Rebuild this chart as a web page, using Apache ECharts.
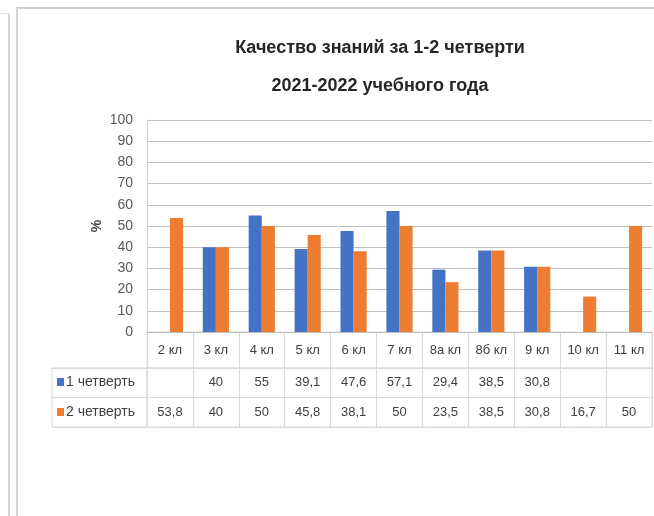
<!DOCTYPE html>
<html>
<head>
<meta charset="utf-8">
<script src="https://cdn.jsdelivr.net/npm/echarts@6/dist/echarts.min.js"></script>
<style>
  html, body { margin: 0; padding: 0; background: #fff; }
  .frame { position: absolute; pointer-events: none; }
  .side { left: 8px; top: 13px; width: 2px; height: 503px; background: #d6d6d6; }
  .side-top { left: 0; top: 13px; width: 9px; height: 1px; background: #e2e2e2; }
  .card-left { left: 16px; top: 7px; width: 2px; height: 509px; background: #d2d2d2; }
  .card-top { left: 16px; top: 7px; width: 638px; height: 2px; background: #cfcfcf; }
  #chart { position: absolute; left: 0; top: 0; width: 654px; height: 516px; }
</style>
</head>
<body>
<div class="frame side"></div>
<div class="frame side-top"></div>
<div class="frame card-left"></div>
<div class="frame card-top"></div>
<div id="chart"></div>
<script>
const classes = ['2 кл', '3 кл', '4 кл', '5 кл', '6 кл', '7 кл', '8а кл', '8б кл', '9 кл', '10 кл', '11 кл']
const quarter1 = [null, 40, 55, 39.1, 47.6, 57.1, 29.4, 38.5, 30.8, null, null]
const quarter2 = [53.8, 40, 50, 45.8, 38.1, 50, 23.5, 38.5, 30.8, 16.7, 50]
const seriesNames = ['1 четверть', '2 четверть']
const yTicks = [0, 100, 10]

const font = "'Liberation Sans', Arial, sans-serif"
const textColor = '#404040'
const tableLine = '#d5dae2'
const fmt = (v) => (v == null ? '' : String(v).replace('.', ','))

const chart = echarts.init(document.getElementById('chart'))

// one row of the data table under the plot
const tableAxis = (gridIndex, data, position, margin, showSplit) => ({
  type: 'category',
  gridIndex,
  data,
  position,
  axisLine: { show: false },
  axisTick: { show: false },
  splitLine: { show: showSplit, lineStyle: { color: tableLine, width: 1 } },
  axisLabel: {
    inside: true,
    margin,
    interval: 0,
    verticalAlign: 'middle',
    color: textColor,
    fontFamily: font,
    fontSize: 13,
  },
})

chart.setOption({
  animation: false,
  backgroundColor: 'transparent',
  title: {
    text: 'Качество знаний за 1-2 четверти\n2021-2022 учебного года',
    left: 375,
    top: 24,
    textAlign: 'center',
    textStyle: { fontFamily: font, fontSize: 18, fontWeight: 'bold', color: '#262626', lineHeight: 38 },
  },
  legend: {
    data: seriesNames,
    orient: 'vertical',
    left: 57,
    top: 375,
    padding: 0,
    itemGap: 16,
    itemWidth: 7,
    itemHeight: 8,
    icon: 'rect',
    textStyle: { fontFamily: font, fontSize: 14, color: textColor, padding: [0, 0, 0, -3] },
  },
  grid: [
    { left: 147, right: 2, top: 120, height: 212 },
    { left: 147, right: 2, top: 332, height: 36, show: true, borderColor: tableLine, borderWidth: 1 },
    { left: 147, right: 2, top: 368, height: 59, show: true, borderColor: tableLine, borderWidth: 1 },
    { left: 52, width: 95, top: 368, height: 59, show: true, borderColor: tableLine, borderWidth: 1 },
  ],
  xAxis: [
    {
      type: 'category',
      gridIndex: 0,
      data: classes,
      axisLine: { show: true, lineStyle: { color: '#bfbfbf' } },
      axisTick: { show: false },
      axisLabel: { show: false },
    },
    tableAxis(1, classes, 'top', 18, true),
    tableAxis(2, quarter1.map(fmt), 'top', 14, true),
    tableAxis(2, quarter2.map(fmt), 'bottom', 15, false),
    { type: 'value', gridIndex: 3, show: false },
  ],
  yAxis: [
    {
      type: 'value',
      gridIndex: 0,
      min: yTicks[0],
      max: yTicks[1],
      interval: yTicks[2],
      name: '%',
      nameLocation: 'middle',
      nameGap: 43,
      nameMoveOverlap: false,
      nameRotate: 90,
      nameTextStyle: { fontFamily: font, fontSize: 14, color: textColor, fontWeight: 'bold' },
      axisLine: { show: true, lineStyle: { color: '#d0d0d0' } },
      axisTick: { show: false },
      axisLabel: { fontFamily: font, fontSize: 14, color: '#595959', margin: 14 },
      splitLine: { lineStyle: { color: '#bfbfbf', width: 1 } },
    },
    { type: 'value', gridIndex: 1, show: false },
    {
      type: 'value', gridIndex: 2, min: 0, max: 2, interval: 1,
      axisLine: { show: false }, axisTick: { show: false }, axisLabel: { show: false },
      splitLine: { lineStyle: { color: tableLine } },
    },
    {
      type: 'value', gridIndex: 3, min: 0, max: 2, interval: 1,
      axisLine: { show: false }, axisTick: { show: false }, axisLabel: { show: false },
      splitLine: { lineStyle: { color: tableLine } },
    },
  ],
  series: [
    {
      name: seriesNames[0],
      type: 'bar',
      data: quarter1,
      barGap: '0%',
      barCategoryGap: '43%',
      itemStyle: { color: '#4472c4' },
    },
    {
      name: seriesNames[1],
      type: 'bar',
      data: quarter2,
      barGap: '0%',
      barCategoryGap: '43%',
      itemStyle: { color: '#ed7d31' },
    },
  ],
})

window.addEventListener('resize', () => chart.resize())
</script>
</body>
</html>
